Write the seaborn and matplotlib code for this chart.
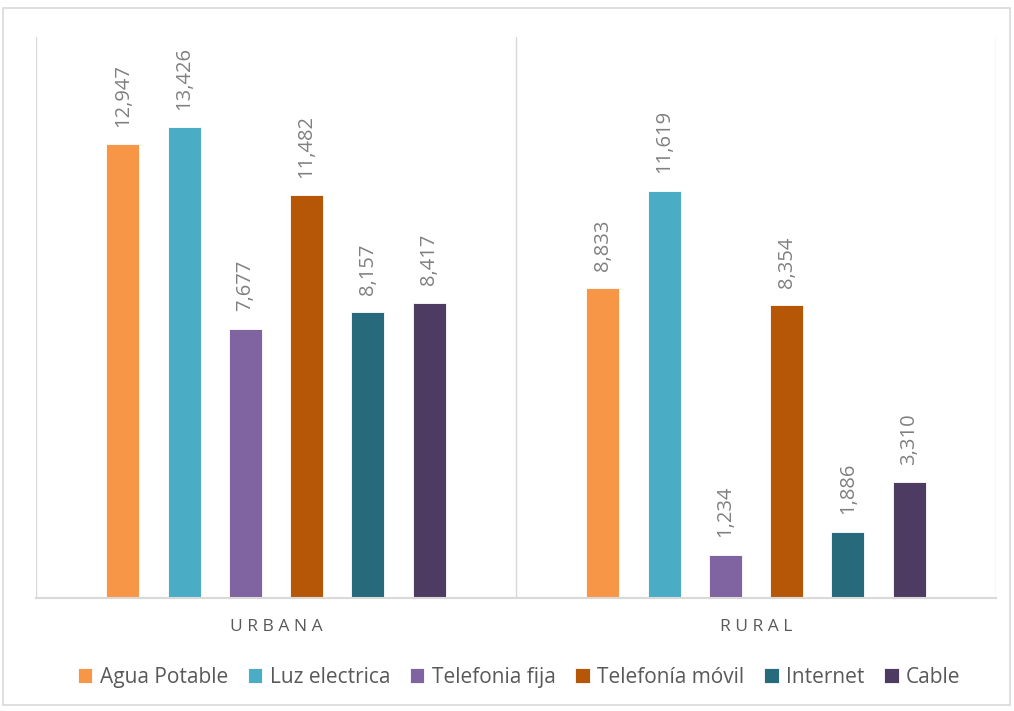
import pandas as pd
import matplotlib.pyplot as plt
import seaborn as sns
from matplotlib.patches import Rectangle

categories = ["URBANA", "RURAL"]
servicios = ["Agua Potable", "Luz electrica", "Telefonia fija",
             "Telefonía móvil", "Internet", "Cable"]
urbana = [12947, 13426, 7677, 11482, 8157, 8417]
rural = [8833, 11619, 1234, 8354, 1886, 3310]
colores = ["#F79646", "#4BACC6", "#8064A2", "#B65708", "#276A7C", "#4D3B62"]

rows = []
for cat, vals in zip(categories, [urbana, rural]):
    for s, v in zip(servicios, vals):
        rows.append({"zona": cat, "servicio": s, "valor": v})
df = pd.DataFrame(rows)

sns.set_theme(style="white")
plt.rcParams['font.family'] = ['Open Sans', 'DejaVu Sans']

fig = plt.figure(figsize=(10.14, 7.11), dpi=100)
ax = fig.add_axes([0.0355, 0.159, 0.9467, 0.789])

sns.barplot(data=df, x="zona", y="valor", hue="servicio", order=categories,
            hue_order=servicios, palette=colores, saturation=1, width=0.766, gap=0.46,
            edgecolor="white", linewidth=0.6, ax=ax, legend=True)

for cont in ax.containers:
    ax.bar_label(cont, labels=[f"{b.get_height():,.0f}" for b in cont],
                 rotation=90, padding=12.5, fontsize=14.5, color="#808080")

ax.set_xlim(-0.5, 1.5)
ax.set_ylim(0, 16000)
ax.set_yticks([])
ax.set_xlabel("")
ax.set_ylabel("")
ax.set_xticks([0, 1])
ax.set_xticklabels([" ".join(c) for c in categories], fontsize=12.5, color="#595959")
ax.tick_params(axis="x", length=0, pad=15)

for s in ["top", "right", "left"]:
    ax.spines[s].set_visible(False)
ax.spines["bottom"].set_color("#d9d9d9")
ax.spines["bottom"].set_linewidth(1.5)
for xv in [-0.5, 0.5, 1.5]:
    ax.axvline(xv, color="#d9d9d9", lw=1.0, zorder=0)

ax.legend_.remove()
handles, labels = ax.get_legend_handles_labels()
fig.legend(handles, labels, loc="center", bbox_to_anchor=(0.512, 0.047), ncol=6,
           frameon=False, fontsize=15, handlelength=0.7, handleheight=0.7,
           handletextpad=0.35, columnspacing=0.95, labelcolor="#595959")

fig.patches.append(Rectangle((0.003, 0.008), 0.993, 0.981, transform=fig.transFigure,
                             fill=False, edgecolor="#d9d9d9", lw=1.2))

fig.savefig("out.png", dpi=100)
